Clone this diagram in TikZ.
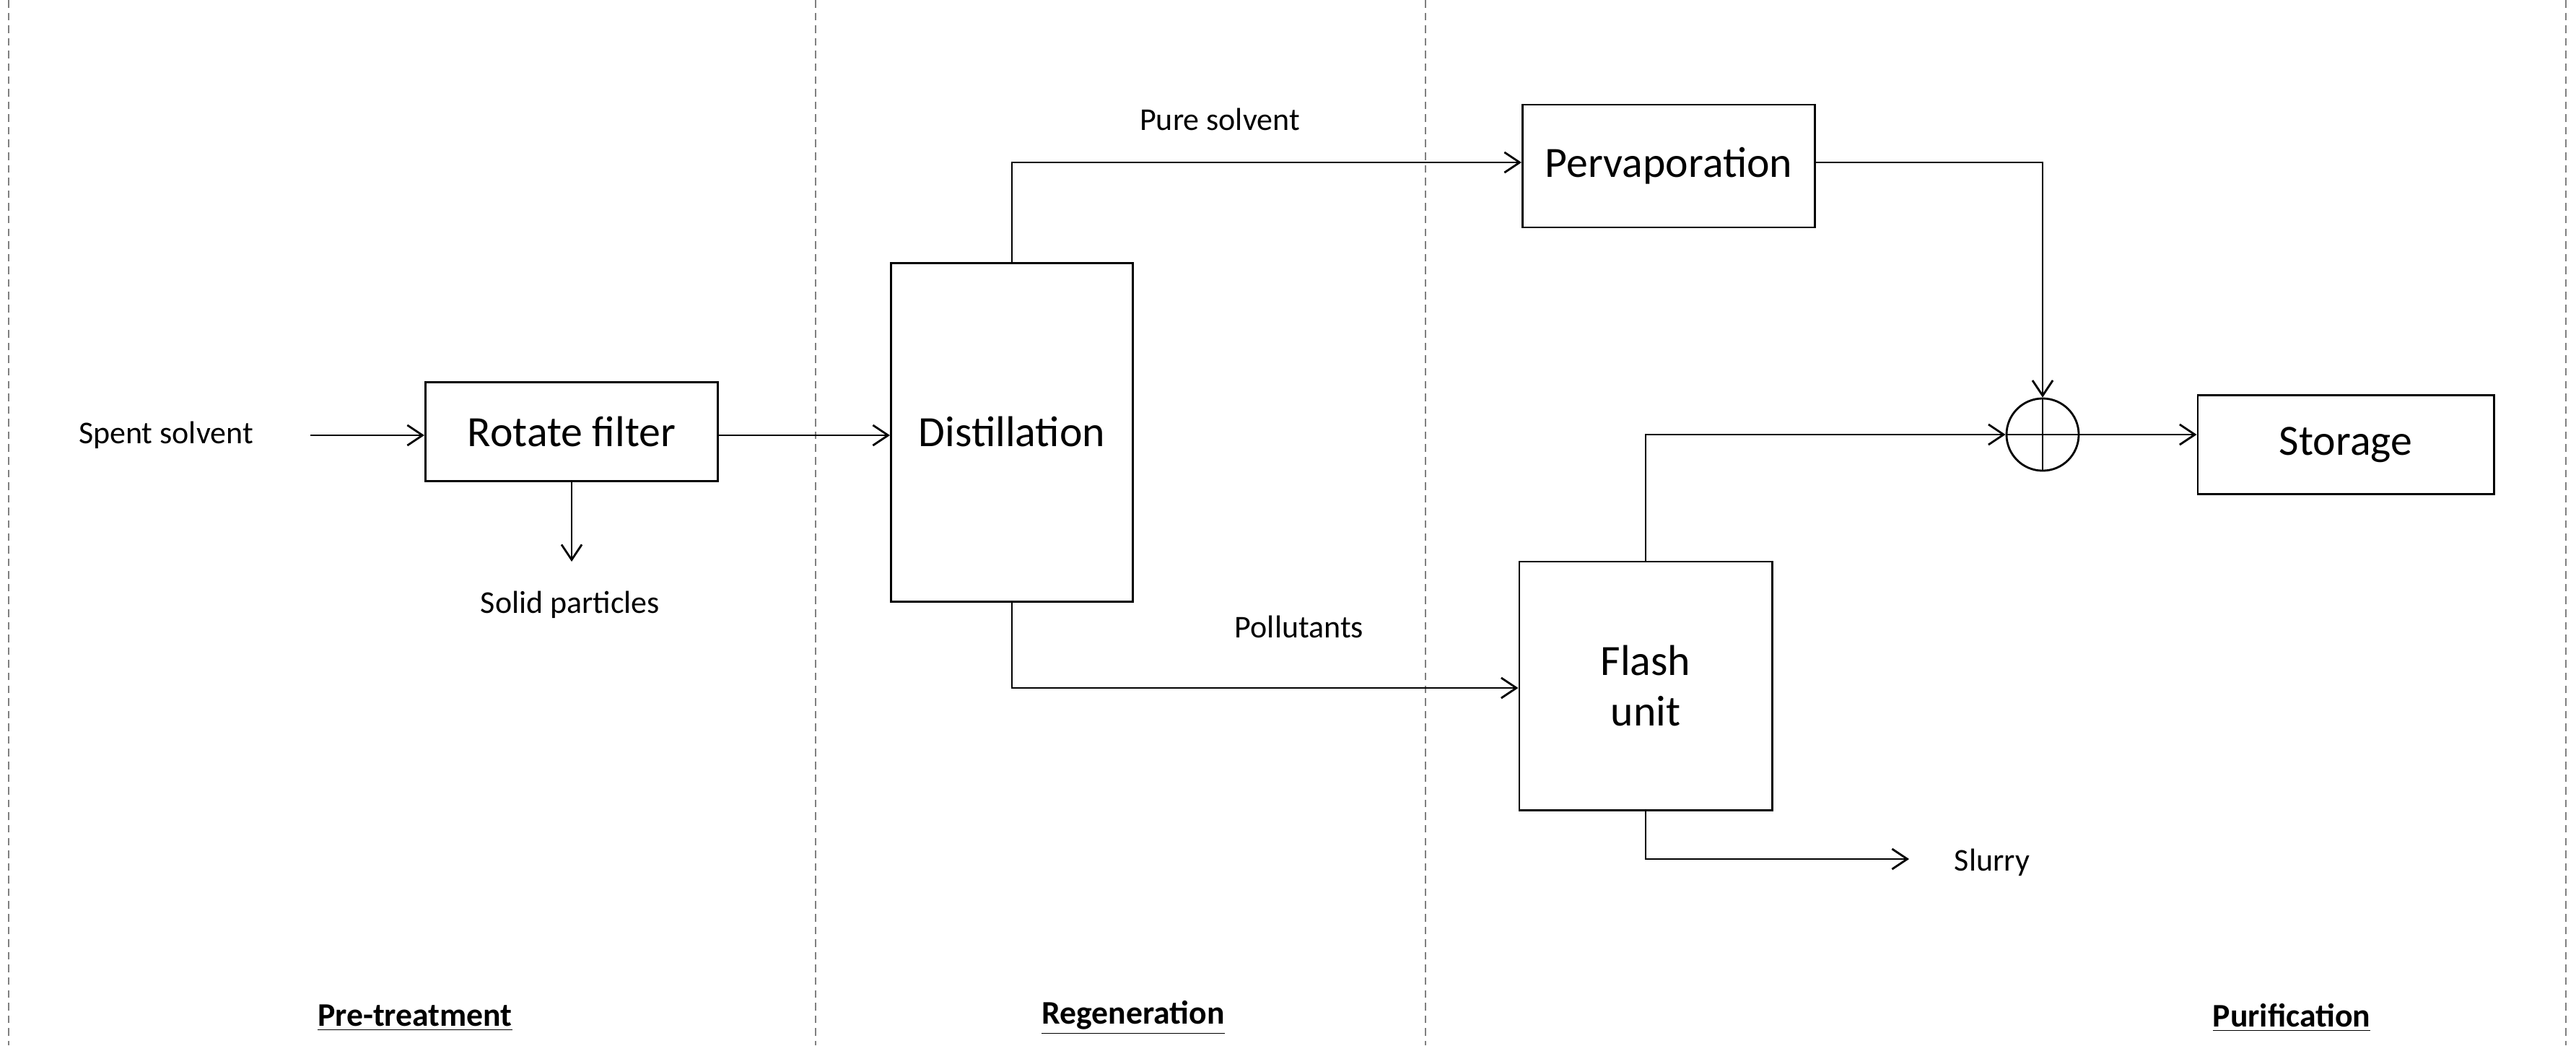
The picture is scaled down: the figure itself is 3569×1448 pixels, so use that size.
\documentclass[tikz,border=0pt]{standalone}
\usepackage{fontspec}
\setmainfont{Carlito}
\usetikzlibrary{arrows.meta}
\tikzset{
  unit/.style={draw=black, thick, font=\fontsize{17}{20}\selectfont, align=center},
  flow/.style={thick, -{Straight Barb[length=6pt,width=8pt]}},
  pipe/.style={thick},
  lbl/.style={font=\fontsize{12.5}{15}\selectfont},
  phase/.style={font=\fontsize{13}{15}\selectfont\bfseries},
  zone/.style={densely dashed, gray, thin}
}
\begin{document}
\begin{tikzpicture}[x=0.01cm,y=-0.01cm]
  \useasboundingbox (0,0) rectangle (3569,1448);

  % zone borders
  \foreach \xx in {12,1130,1975,3555}
    \draw[zone] (\xx,0) -- (\xx,1448);

  % units
  \node[unit, minimum width=4.05cm, minimum height=1.37cm] (filter) at (792,598) {Rotate filter};
  \node[unit, minimum width=3.35cm, minimum height=4.68cm] (dist) at (1402,599) {};
  \node[font=\fontsize{17}{20}\selectfont] (distlbl) at (1402,598) {Distillation};
  \node[unit, minimum width=4.05cm, minimum height=1.7cm] (perv) at (2312,230) {Pervaporation};
  \node[unit, minimum width=3.5cm, minimum height=3.44cm] (flash) at (2280,950) {Flash\\unit};
  \node[unit, minimum width=4.1cm, minimum height=1.37cm] (store) at (3250,616) {Storage};
  \node[draw, thick, circle, minimum size=1cm, inner sep=0pt] (mix) at (2830,602) {};
  \draw[thick] (mix.north) -- (mix.south) (mix.west) -- (mix.east);

  % streams
  \node[lbl] (spent) at (230,603) {Spent solvent};
  \node[lbl] (solids) at (790,838) {Solid particles};
  \node[lbl] (pure) at (1690,165) {Pure solvent};
  \node[lbl] (poll) at (1800,868) {Pollutants};
  \node[lbl] (slurry) at (2760,1195) {Slurry};
  \coordinate (feed) at (430,603);
  \coordinate (solend) at (792,778);
  \coordinate (slend) at (2645,1190);

  \draw[flow] (feed) -- (filter.west |- feed);
  \draw[flow] (filter.south) -- (solend);
  \draw[flow] (filter.east |- feed) -- (dist.west |- feed);
  \draw[flow] (dist.north) |- (perv.west |- 0,225);
  \draw[flow] (perv.east |- 0,225) -| (mix.north);
  \draw[flow] (dist.south) |- (flash.west |- 0,953);
  \draw[flow] (flash.north) |- (mix.west);
  \draw[flow] (mix.east) -- (store.west |- mix);
  \draw[flow] (flash.south) |- (slend);

  % phases
  \node[phase] (pre) at (575,1410) {\underline{Pre-treatment}};
  \node[phase] (regen) at (1570,1410) {\underline{Regeneration}};
  \node[phase] (purif) at (3175,1410) {\underline{Purification}};
\end{tikzpicture}
\end{document}
